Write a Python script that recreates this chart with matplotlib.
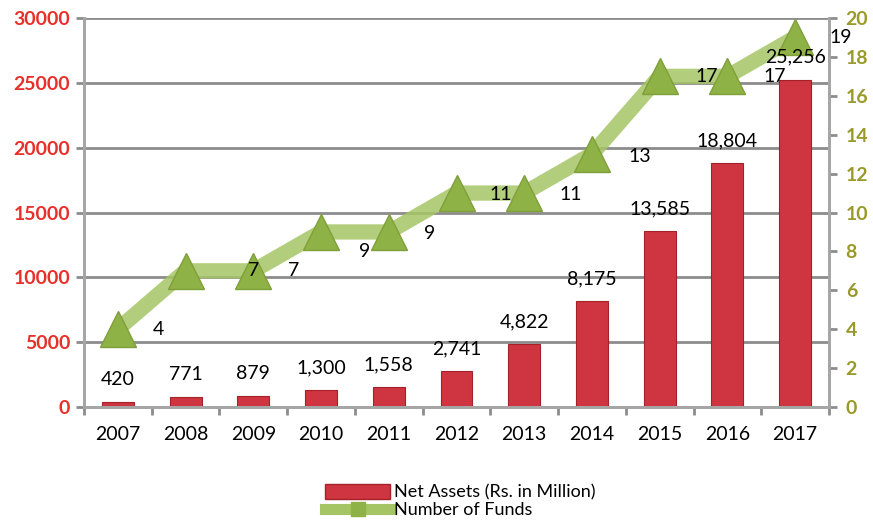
import matplotlib
matplotlib.use("Agg")
import matplotlib.pyplot as plt
import numpy as np
from matplotlib.lines import Line2D
from matplotlib.patches import Patch

years = ["2007", "2008", "2009", "2010", "2011", "2012", "2013", "2014", "2015", "2016", "2017"]
net_assets = [420, 771, 879, 1300, 1558, 2741, 4822, 8175, 13585, 18804, 25256]
num_funds = [4, 7, 7, 9, 9, 11, 11, 13, 17, 17, 19]
asset_labels = ["420", "771", "879", "1,300", "1,558", "2,741", "4,822", "8,175", "13,585", "18,804", "25,256"]

FONT = "Lato"
plt.rcParams['font.family'] = [FONT, 'DejaVu Sans']

fig = plt.figure(figsize=(8.73, 5.21), dpi=100)
ax = fig.add_axes([84/873, (521-407)/521, (829-84)/873, (407-18)/521])
ax2 = ax.twinx()

x = np.arange(len(years))
grid_c = "#8c8c8c"
ax.set_axisbelow(True)
ax.set_ylim(0, 30000)
ax.set_xlim(-0.5, len(years) - 0.5)
ax.set_yticks(np.arange(0, 30001, 5000))
ax.yaxis.grid(True, color=grid_c, linewidth=2)
ax.bar(x, net_assets, width=0.47, color="#cf3540", edgecolor="#a3222a", linewidth=0.8, zorder=2)

ax2.set_ylim(0, 20)
ax2.set_yticks(np.arange(0, 21, 2))
ax2.plot(x, num_funds, color="#a5c565", linewidth=11, alpha=0.85, solid_capstyle="round",
         solid_joinstyle="round", zorder=3)
ax2.plot(x, num_funds, linestyle="none", marker="^", markersize=26, color="#8fb246",
         markeredgecolor="#7f9f3a", zorder=4)

# bar labels drawn on the top axes so they sit above the line
for xi, v, lab in zip(x, net_assets, asset_labels):
    ax2.annotate(lab, (xi, v), xycoords=ax.transData, xytext=(0, 10), textcoords="offset points",
                 ha="center", va="bottom", fontsize=14, color="black", zorder=6)

# label offsets (in category units / value units) as placed in the reference
lab_dx = [0.6, 1.0, 0.6, 0.65, 0.6, 0.65, 0.68, 0.7, 0.7, 0.7, 0.68]
lab_dy = [0, 0, 0, -1.0, -0.1, -0.1, -0.1, -0.1, 0, 0, 0]
for xi, v, dx, dy in zip(x, num_funds, lab_dx, lab_dy):
    ax2.text(xi + dx, v + dy, str(v), ha="center", va="center", fontsize=14, color="black", zorder=6)

# axis styling
ax.set_xticks(x)
ax.set_xticklabels(years, fontsize=14)
ax.set_xticks(np.arange(-0.5, len(years), 1), minor=True)
ax.tick_params(axis="x", which="major", length=0, pad=14)
ax.tick_params(axis="x", which="minor", length=6, width=2, color=grid_c)
ax.tick_params(axis="y", length=6, width=2, color=grid_c, labelsize=14, labelcolor="#e8302a", pad=4)
for t in ax.get_yticklabels():
    t.set_fontweight("bold")
ax2.tick_params(axis="y", length=6, width=2, color=grid_c, labelsize=14, labelcolor="#9a9a2a", pad=6)
for t in ax2.get_yticklabels():
    t.set_fontweight("bold")

for a in (ax, ax2):
    a.spines["top"].set_visible(False)
    for s in ("left", "right", "bottom"):
        a.spines[s].set_color("#a6a6a6")
        a.spines[s].set_linewidth(2)

handles = [Patch(facecolor="#cf3540", edgecolor="#a3222a"),
           Line2D([0], [0], color="#a5c565", linewidth=8, marker="s", markersize=10,
                  markerfacecolor="#8fb246", markeredgecolor="#8fb246")]
fig.legend(handles, ["Net Assets (Rs. in Million)", "Number of Funds"],
           loc="center", bbox_to_anchor=(0.527, 0.038), frameon=False, fontsize=13,
           handlelength=3.6, handleheight=0.9, handletextpad=0.2, labelspacing=0.05)

fig.savefig("out.png", dpi=100)
